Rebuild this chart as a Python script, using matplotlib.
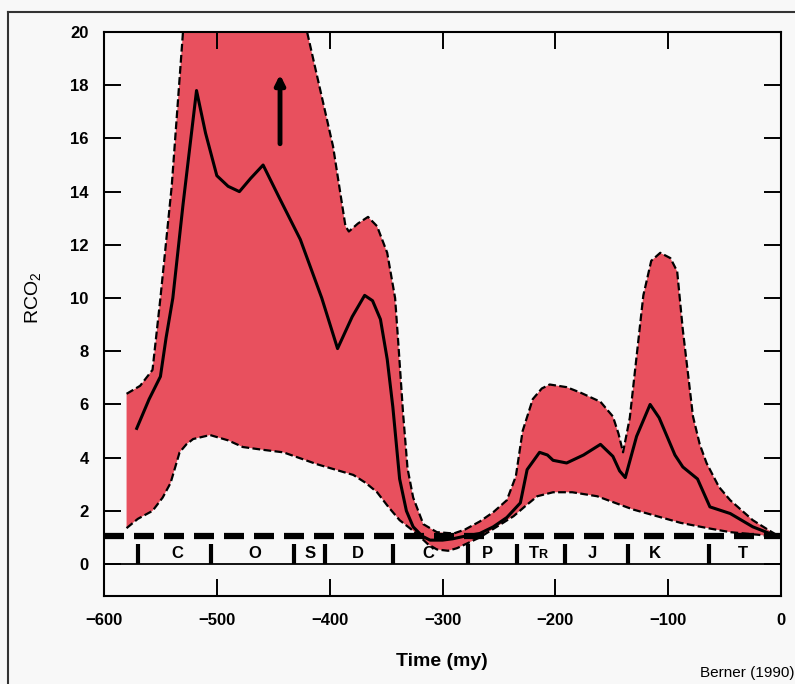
import matplotlib.pyplot as plt
from matplotlib.lines import Line2D

plt.rcParams['font.family'] = ['Liberation Sans', 'DejaVu Sans']
plt.rcParams['mathtext.default'] = 'regular'

# upper edge of the band (values above 20 are clipped by the axes)
upper_x = [-580, -568, -557, -550, -540, -530, -528, -422, -420, -397, -386, -383,
           -375, -366, -358, -349, -342, -339, -335, -331, -326, -317, -305, -290,
           -280, -267, -255, -243, -235, -229, -220, -212, -205, -190, -178, -160,
           -149, -144, -140, -134, -128, -122, -115, -107, -98, -92, -87, -82, -78,
           -72, -66, -55, -45, -25, -10, 0]
upper_y = [6.4, 6.7, 7.3, 10.0, 14.2, 20.0, 22.0, 22.0, 20.0, 15.7, 12.7, 12.5,
           12.8, 13.05, 12.7, 11.7, 10.0, 8.2, 5.7, 3.6, 2.5, 1.5, 1.2, 1.15,
           1.3, 1.6, 1.95, 2.4, 3.3, 5.0, 6.2, 6.6, 6.75, 6.65, 6.45, 6.1,
           5.55, 4.9, 4.2, 5.5, 7.8, 10.1, 11.4, 11.7, 11.5, 11.0, 8.8, 7.0, 5.55,
           4.5, 3.8, 2.9, 2.4, 1.65, 1.25, 1.0]

# lower edge of the band
lower_x = [-580, -570, -557, -548, -541, -533, -527, -521, -506, -490, -477, -460,
           -441, -411, -379, -368, -358, -348, -338, -323, -313, -305, -295, -287,
           -277, -267, -252, -237, -226, -216, -202, -185, -163, -131, -110, -89,
           -65, -45, -20, 0]
lower_y = [1.35, 1.7, 2.0, 2.5, 3.05, 4.2, 4.5, 4.7, 4.85, 4.65, 4.4, 4.3,
           4.2, 3.75, 3.35, 3.05, 2.7, 2.15, 1.65, 1.15, 0.75, 0.55, 0.5, 0.6,
           0.8, 1.0, 1.4, 1.8, 2.2, 2.55, 2.7, 2.7, 2.55, 2.05, 1.8, 1.55,
           1.35, 1.2, 1.1, 1.0]

# best estimate
mid_x = [-571, -560, -550, -545, -539, -530, -518, -510, -500, -490, -480, -470,
         -459, -445, -426, -407, -393, -380, -369, -362, -355, -349, -344, -338,
         -332, -326, -318, -311, -300, -291, -280, -267, -255, -243, -231, -225,
         -214, -207, -202, -190, -175, -160, -149, -143, -138, -128, -116, -108,
         -101, -94, -87, -74, -63, -45, -25, -10, 0]
mid_y = [5.1, 6.2, 7.05, 8.5, 10.0, 13.5, 17.8, 16.2, 14.6, 14.2, 14.0, 14.5,
         15.0, 13.8, 12.2, 10.0, 8.1, 9.3, 10.1, 9.9, 9.2, 7.7, 5.9, 3.2,
         2.0, 1.4, 1.05, 0.9, 0.9, 0.95, 1.05, 1.15, 1.4, 1.75, 2.3, 3.55,
         4.2, 4.1, 3.9, 3.8, 4.1, 4.5, 4.05, 3.5, 3.25, 4.8, 6.0, 5.5,
         4.8, 4.1, 3.65, 3.2, 2.15, 1.9, 1.4, 1.15, 1.0]

# geologic periods
bounds = [-570, -505, -432, -404, -344, -277, -234, -191, -136, -64]
period_x = [-535, -466, -417, -375, -313, -260, -167, -112, -34]
period_lbl = ['C', 'O', 'S', 'D', 'C', 'P', 'J', 'K', 'T']

fig = plt.figure(figsize=(7.95, 6.84), dpi=100, facecolor='#f8f8f8')
ax = fig.add_axes([104 / 795, 1 - 596 / 684, 677 / 795, 564 / 684])
ax.set_facecolor('#f8f8f8')

ax.fill(upper_x + lower_x[::-1], upper_y + lower_y[::-1],
        color='#e8505e', lw=0, zorder=1)
ax.plot(upper_x, upper_y, color='black', lw=1.6, ls=(0, (3.5, 1.5)), zorder=3)
ax.plot(lower_x, lower_y, color='black', lw=1.6, ls=(0, (3.5, 1.5)), zorder=3)
ax.plot(mid_x, mid_y, color='black', lw=2.2, zorder=4)

ax.axhline(1.05, color='black', lw=4.5, ls=(0, (3.2, 1.6)), zorder=5)
ax.axhline(0, color='black', lw=1.3, zorder=5)
for b in bounds:
    ax.plot([b, b], [0, 0.75], color='black', lw=3, solid_capstyle='butt', zorder=5)
for x, s in zip(period_x, period_lbl):
    ax.text(x, 0.4, s, ha='center', va='center', fontsize=12, fontweight='bold')
ax.text(-215, 0.4, 'T', ha='right', va='center', fontsize=12, fontweight='bold')
ax.text(-215, 0.33, 'R', ha='left', va='center', fontsize=9, fontweight='bold')

ax.annotate('', xy=(-444, 18.4), xytext=(-444, 15.8),
            arrowprops=dict(arrowstyle='-|>', lw=3.5, color='black',
                            mutation_scale=14, shrinkA=0, shrinkB=0))

ax.set_xlim(-600, 0)
ax.set_ylim(-1.2, 20)
ax.set_xticks(range(-600, 1, 100))
ax.set_yticks(range(0, 21, 2))
ax.tick_params(axis='both', direction='in', top=True, right=True,
               length=12, width=1.4, labelsize=12)
ax.tick_params(axis='x', pad=12)
ax.tick_params(axis='y', pad=11)
for lab in ax.get_xticklabels() + ax.get_yticklabels():
    lab.set_fontweight('bold')
for sp in ax.spines.values():
    sp.set_linewidth(1.5)

fig.text(33 / 795, 1 - 298 / 684, 'RCO$_2$', rotation=90, ha='center',
         va='center', fontsize=14)
fig.text(442 / 795, 1 - 662 / 684, 'Time (my)', ha='center', va='center',
         fontsize=14, fontweight='bold')
fig.text(794 / 795, 1 - 673 / 684, 'Berner (1990)', ha='right', va='center',
         fontsize=11)

# outer frame
fig.add_artist(Line2D([8 / 795, 1], [1 - 12 / 684, 1 - 12 / 684],
                      color='#333333', lw=1.5))
fig.add_artist(Line2D([8 / 795, 8 / 795], [0, 1 - 12 / 684],
                      color='#333333', lw=1.5))

fig.savefig('out.png', dpi=100, facecolor=fig.get_facecolor())
